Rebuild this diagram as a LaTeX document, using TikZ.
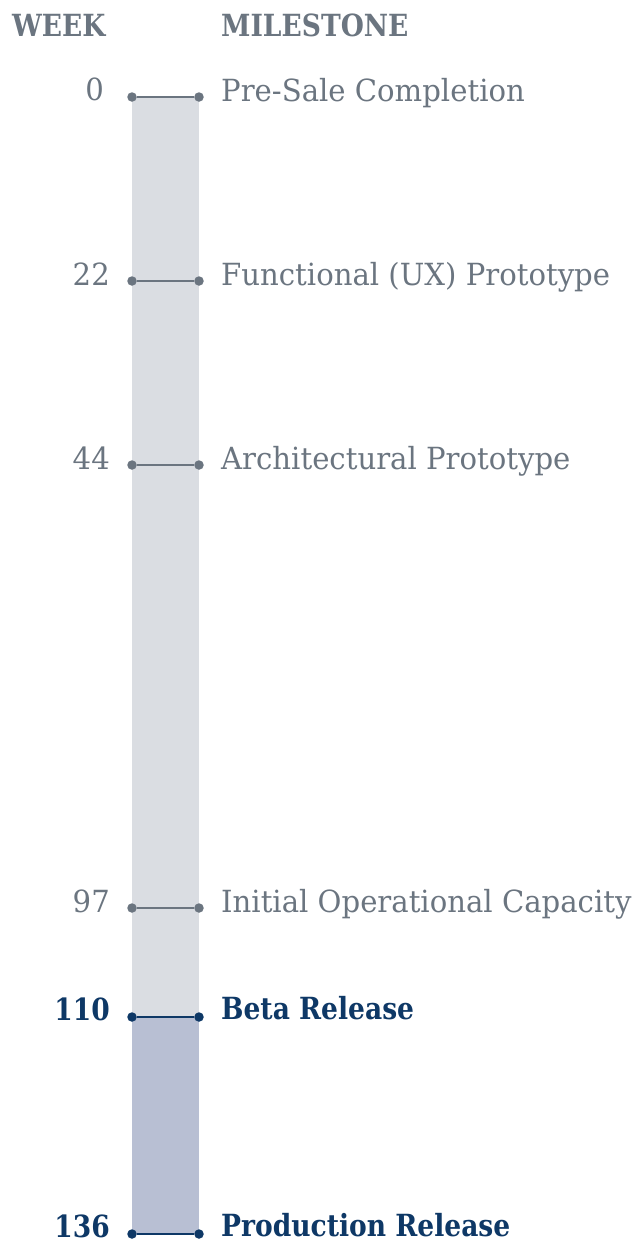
\documentclass[tikz,border=0pt]{standalone}
\usepackage{fontspec}
\setmainfont{DejaVu Serif}[FakeStretch=0.955,BoldFeatures={FakeStretch=0.87}]
\definecolor{slate}{HTML}{6B7580}
\definecolor{navy}{HTML}{0E3866}
\definecolor{barlight}{HTML}{DADDE2}
\definecolor{bardark}{HTML}{B8BFD3}
\tikzset{
  dotg/.style={circle,fill=slate,inner sep=0pt,minimum size=9.5pt},
  dotn/.style={circle,fill=navy,inner sep=0pt,minimum size=9.5pt},
  tickg/.style={draw=slate,line width=2.2pt},
  tickn/.style={draw=navy,line width=2.2pt},
  wk/.style={anchor=base east,inner sep=0pt,text=slate,font=\fontsize{30.5}{32}\selectfont},
  ms/.style={anchor=base west,inner sep=0pt,text=slate,font=\fontsize{30.5}{32}\selectfont},
  wkb/.style={wk,text=navy,font=\fontsize{30.5}{32}\selectfont\bfseries},
  msb/.style={ms,text=navy,font=\fontsize{30.5}{32}\selectfont\bfseries},
  head/.style={anchor=base west,inner sep=0pt,text=slate,font=\fontsize{30.5}{32}\selectfont\bfseries}
}
\begin{document}
\begin{tikzpicture}[x=1pt,y=-1pt]
\useasboundingbox (0,0) rectangle (635,1243);
\fill[barlight] (132,97) rectangle (199,1017);
\fill[bardark] (132,1017) rectangle (199,1234);
\node[head] (hw) at (12,36) {WEEK};
\node[head] (hm) at (221,36) {MILESTONE};
% ticks
\foreach \n/\y in {a/97,b/281,c/465,d/908}{
  \node[dotg] (l\n) at (132,\y) {};
  \node[dotg] (r\n) at (199,\y) {};
  \draw[tickg] (l\n) -- (r\n);
}
\foreach \n/\y in {e/1017,f/1234}{
  \node[dotn] (l\n) at (132,\y) {};
  \node[dotn] (r\n) at (199,\y) {};
  \draw[tickn] (l\n) -- (r\n);
}
\node[wk] (wa) at (104,100) {0};
\node[wk] (wb) at (110,285) {22};
\node[wk] (wc) at (110,469) {44};
\node[wk] (wd) at (110,912) {97};
\node[wkb] (we) at (110,1020) {110};
\node[wkb] (wf) at (110,1237) {136};
\node[ms] (ma) at (221,101) {Pre-Sale Completion};
\node[ms] (mb) at (221,285) {Functional (UX) Prototype};
\node[ms] (mc) at (221,469) {Architectural Prototype};
\node[ms] (md) at (221,912) {Initial Operational Capacity};
\node[msb] (me) at (221,1019) {Beta Release};
\node[msb] (mf) at (221,1236) {Production Release};
\end{tikzpicture}
\end{document}
